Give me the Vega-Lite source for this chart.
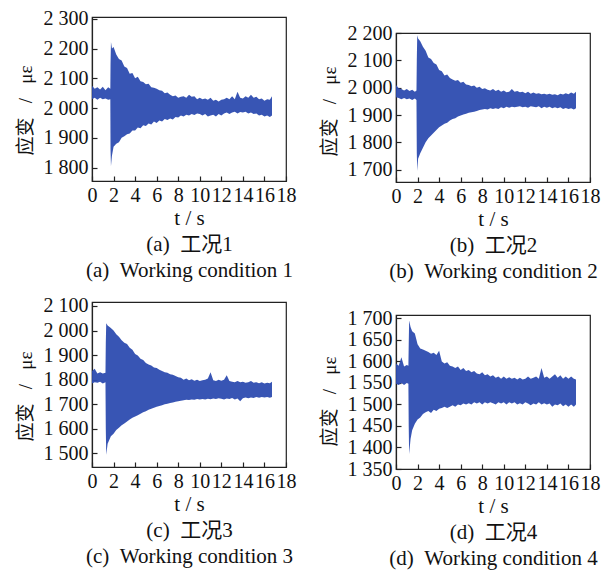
{
"$schema": "https://vega.github.io/schema/vega-lite/v6.json",
"background": "white",
"padding": {"left": 15, "top": 8, "right": 5, "bottom": 2},
"datasets": {
"d": [
{"p":1,"t":0,"lo":2030,"hi":2075},{"p":1,"t":0.25,"lo":2035,"hi":2065},{"p":1,"t":0.5,"lo":2028,"hi":2070},{"p":1,"t":0.75,"lo":2035,"hi":2062},{"p":1,"t":1,"lo":2030,"hi":2072},{"p":1,"t":1.25,"lo":2032,"hi":2060},{"p":1,"t":1.5,"lo":2028,"hi":2070},{"p":1,"t":1.7,"lo":2030,"hi":2065},{"p":1,"t":1.72,"lo":1860,"hi":2150},{"p":1,"t":1.76,"lo":1805,"hi":2222},{"p":1,"t":1.85,"lo":1840,"hi":2200},{"p":1,"t":2,"lo":1870,"hi":2205},{"p":1,"t":2.25,"lo":1880,"hi":2180},{"p":1,"t":2.5,"lo":1885,"hi":2165},{"p":1,"t":2.75,"lo":1900,"hi":2160},{"p":1,"t":3,"lo":1905,"hi":2140},{"p":1,"t":3.25,"lo":1912,"hi":2135},{"p":1,"t":3.5,"lo":1915,"hi":2115},{"p":1,"t":3.75,"lo":1925,"hi":2118},{"p":1,"t":4,"lo":1925,"hi":2100},{"p":1,"t":4.25,"lo":1935,"hi":2105},{"p":1,"t":4.5,"lo":1932,"hi":2090},{"p":1,"t":4.75,"lo":1942,"hi":2088},{"p":1,"t":5,"lo":1940,"hi":2080},{"p":1,"t":5.25,"lo":1948,"hi":2082},{"p":1,"t":5.5,"lo":1945,"hi":2070},{"p":1,"t":5.75,"lo":1955,"hi":2068},{"p":1,"t":6,"lo":1950,"hi":2065},{"p":1,"t":6.25,"lo":1958,"hi":2060},{"p":1,"t":6.5,"lo":1955,"hi":2058},{"p":1,"t":6.75,"lo":1963,"hi":2050},{"p":1,"t":7,"lo":1960,"hi":2052},{"p":1,"t":7.25,"lo":1965,"hi":2045},{"p":1,"t":7.5,"lo":1962,"hi":2040},{"p":1,"t":7.75,"lo":1970,"hi":2042},{"p":1,"t":8,"lo":1968,"hi":2035},{"p":1,"t":8.25,"lo":1975,"hi":2038},{"p":1,"t":8.5,"lo":1972,"hi":2040},{"p":1,"t":8.75,"lo":1978,"hi":2035},{"p":1,"t":9,"lo":1975,"hi":2045},{"p":1,"t":9.25,"lo":1980,"hi":2038},{"p":1,"t":9.5,"lo":1977,"hi":2040},{"p":1,"t":9.75,"lo":1982,"hi":2030},{"p":1,"t":10,"lo":1980,"hi":2035},{"p":1,"t":10.25,"lo":1975,"hi":2030},{"p":1,"t":10.5,"lo":1980,"hi":2032},{"p":1,"t":10.75,"lo":1972,"hi":2028},{"p":1,"t":11,"lo":1975,"hi":2035},{"p":1,"t":11.25,"lo":1978,"hi":2025},{"p":1,"t":11.5,"lo":1972,"hi":2028},{"p":1,"t":11.75,"lo":1980,"hi":2022},{"p":1,"t":12,"lo":1975,"hi":2028},{"p":1,"t":12.25,"lo":1982,"hi":2030},{"p":1,"t":12.5,"lo":1985,"hi":2035},{"p":1,"t":12.75,"lo":1980,"hi":2030},{"p":1,"t":13,"lo":1985,"hi":2040},{"p":1,"t":13.25,"lo":1988,"hi":2030},{"p":1,"t":13.5,"lo":1982,"hi":2055},{"p":1,"t":13.75,"lo":1987,"hi":2035},{"p":1,"t":14,"lo":1985,"hi":2032},{"p":1,"t":14.25,"lo":1988,"hi":2040},{"p":1,"t":14.5,"lo":1982,"hi":2035},{"p":1,"t":14.75,"lo":1985,"hi":2045},{"p":1,"t":15,"lo":1980,"hi":2035},{"p":1,"t":15.25,"lo":1982,"hi":2038},{"p":1,"t":15.5,"lo":1975,"hi":2030},{"p":1,"t":15.75,"lo":1978,"hi":2032},{"p":1,"t":16,"lo":1972,"hi":2025},{"p":1,"t":16.25,"lo":1975,"hi":2030},{"p":1,"t":16.5,"lo":1970,"hi":2028},{"p":1,"t":16.7,"lo":1975,"hi":2040},
{"p":2,"t":0,"lo":1965,"hi":2010},{"p":2,"t":0.25,"lo":1962,"hi":1998},{"p":2,"t":0.5,"lo":1958,"hi":1995},{"p":2,"t":0.75,"lo":1962,"hi":1990},{"p":2,"t":1,"lo":1958,"hi":1995},{"p":2,"t":1.25,"lo":1960,"hi":1988},{"p":2,"t":1.5,"lo":1955,"hi":1992},{"p":2,"t":1.75,"lo":1960,"hi":1985},{"p":2,"t":1.9,"lo":1955,"hi":1990},{"p":2,"t":1.93,"lo":1760,"hi":2100},{"p":2,"t":1.97,"lo":1695,"hi":2192},{"p":2,"t":2.05,"lo":1740,"hi":2180},{"p":2,"t":2.25,"lo":1760,"hi":2170},{"p":2,"t":2.5,"lo":1780,"hi":2150},{"p":2,"t":2.75,"lo":1800,"hi":2135},{"p":2,"t":3,"lo":1815,"hi":2110},{"p":2,"t":3.25,"lo":1825,"hi":2105},{"p":2,"t":3.5,"lo":1835,"hi":2090},{"p":2,"t":3.75,"lo":1845,"hi":2085},{"p":2,"t":4,"lo":1855,"hi":2065},{"p":2,"t":4.25,"lo":1862,"hi":2060},{"p":2,"t":4.5,"lo":1868,"hi":2045},{"p":2,"t":4.75,"lo":1872,"hi":2048},{"p":2,"t":5,"lo":1880,"hi":2035},{"p":2,"t":5.25,"lo":1885,"hi":2030},{"p":2,"t":5.5,"lo":1888,"hi":2025},{"p":2,"t":5.75,"lo":1895,"hi":2028},{"p":2,"t":6,"lo":1898,"hi":2018},{"p":2,"t":6.25,"lo":1902,"hi":2022},{"p":2,"t":6.5,"lo":1905,"hi":2012},{"p":2,"t":6.75,"lo":1908,"hi":2010},{"p":2,"t":7,"lo":1910,"hi":2005},{"p":2,"t":7.25,"lo":1912,"hi":2008},{"p":2,"t":7.5,"lo":1915,"hi":2000},{"p":2,"t":7.75,"lo":1918,"hi":2003},{"p":2,"t":8,"lo":1920,"hi":1995},{"p":2,"t":8.25,"lo":1922,"hi":1998},{"p":2,"t":8.5,"lo":1920,"hi":1992},{"p":2,"t":8.75,"lo":1925,"hi":1990},{"p":2,"t":9,"lo":1922,"hi":1995},{"p":2,"t":9.25,"lo":1925,"hi":1988},{"p":2,"t":9.5,"lo":1922,"hi":1992},{"p":2,"t":9.75,"lo":1928,"hi":1985},{"p":2,"t":10,"lo":1925,"hi":1990},{"p":2,"t":10.25,"lo":1930,"hi":1983},{"p":2,"t":10.5,"lo":1927,"hi":1985},{"p":2,"t":10.75,"lo":1930,"hi":1995},{"p":2,"t":11,"lo":1928,"hi":1985},{"p":2,"t":11.25,"lo":1930,"hi":1988},{"p":2,"t":11.5,"lo":1932,"hi":1983},{"p":2,"t":11.75,"lo":1928,"hi":1985},{"p":2,"t":12,"lo":1930,"hi":1980},{"p":2,"t":12.25,"lo":1927,"hi":1985},{"p":2,"t":12.5,"lo":1932,"hi":1978},{"p":2,"t":12.75,"lo":1930,"hi":1982},{"p":2,"t":13,"lo":1928,"hi":1978},{"p":2,"t":13.25,"lo":1932,"hi":1980},{"p":2,"t":13.5,"lo":1925,"hi":1976},{"p":2,"t":13.75,"lo":1930,"hi":1978},{"p":2,"t":14,"lo":1927,"hi":1975},{"p":2,"t":14.25,"lo":1930,"hi":1978},{"p":2,"t":14.5,"lo":1925,"hi":1974},{"p":2,"t":14.75,"lo":1928,"hi":1976},{"p":2,"t":15,"lo":1925,"hi":1972},{"p":2,"t":15.25,"lo":1928,"hi":1978},{"p":2,"t":15.5,"lo":1922,"hi":1975},{"p":2,"t":15.75,"lo":1926,"hi":1980},{"p":2,"t":16,"lo":1922,"hi":1976},{"p":2,"t":16.25,"lo":1925,"hi":1982},{"p":2,"t":16.5,"lo":1920,"hi":1978},{"p":2,"t":16.7,"lo":1925,"hi":1985},
{"p":3,"t":0,"lo":1785,"hi":1835},{"p":3,"t":0.25,"lo":1790,"hi":1845},{"p":3,"t":0.5,"lo":1788,"hi":1825},{"p":3,"t":0.75,"lo":1792,"hi":1830},{"p":3,"t":1,"lo":1785,"hi":1825},{"p":3,"t":1.25,"lo":1790,"hi":1828},{"p":3,"t":1.28,"lo":1600,"hi":1950},{"p":3,"t":1.32,"lo":1495,"hi":2030},{"p":3,"t":1.45,"lo":1540,"hi":2020},{"p":3,"t":1.75,"lo":1570,"hi":2010},{"p":3,"t":2,"lo":1580,"hi":2000},{"p":3,"t":2.25,"lo":1595,"hi":1985},{"p":3,"t":2.5,"lo":1605,"hi":1975},{"p":3,"t":2.75,"lo":1615,"hi":1960},{"p":3,"t":3,"lo":1622,"hi":1950},{"p":3,"t":3.25,"lo":1630,"hi":1945},{"p":3,"t":3.5,"lo":1638,"hi":1930},{"p":3,"t":3.75,"lo":1645,"hi":1922},{"p":3,"t":4,"lo":1650,"hi":1905},{"p":3,"t":4.25,"lo":1655,"hi":1898},{"p":3,"t":4.5,"lo":1662,"hi":1885},{"p":3,"t":4.75,"lo":1668,"hi":1880},{"p":3,"t":5,"lo":1672,"hi":1868},{"p":3,"t":5.25,"lo":1678,"hi":1862},{"p":3,"t":5.5,"lo":1682,"hi":1858},{"p":3,"t":5.75,"lo":1686,"hi":1850},{"p":3,"t":6,"lo":1690,"hi":1848},{"p":3,"t":6.25,"lo":1693,"hi":1840},{"p":3,"t":6.5,"lo":1696,"hi":1835},{"p":3,"t":6.75,"lo":1700,"hi":1830},{"p":3,"t":7,"lo":1702,"hi":1828},{"p":3,"t":7.25,"lo":1705,"hi":1822},{"p":3,"t":7.5,"lo":1707,"hi":1820},{"p":3,"t":7.75,"lo":1710,"hi":1815},{"p":3,"t":8,"lo":1712,"hi":1810},{"p":3,"t":8.25,"lo":1714,"hi":1808},{"p":3,"t":8.5,"lo":1716,"hi":1800},{"p":3,"t":8.75,"lo":1718,"hi":1805},{"p":3,"t":9,"lo":1717,"hi":1798},{"p":3,"t":9.25,"lo":1720,"hi":1802},{"p":3,"t":9.5,"lo":1718,"hi":1796},{"p":3,"t":9.75,"lo":1722,"hi":1800},{"p":3,"t":10,"lo":1720,"hi":1795},{"p":3,"t":10.25,"lo":1722,"hi":1798},{"p":3,"t":10.5,"lo":1720,"hi":1800},{"p":3,"t":10.75,"lo":1723,"hi":1805},{"p":3,"t":11,"lo":1721,"hi":1830},{"p":3,"t":11.25,"lo":1724,"hi":1798},{"p":3,"t":11.5,"lo":1722,"hi":1795},{"p":3,"t":11.75,"lo":1725,"hi":1800},{"p":3,"t":12,"lo":1723,"hi":1796},{"p":3,"t":12.25,"lo":1720,"hi":1800},{"p":3,"t":12.5,"lo":1724,"hi":1818},{"p":3,"t":12.75,"lo":1722,"hi":1795},{"p":3,"t":13,"lo":1726,"hi":1792},{"p":3,"t":13.25,"lo":1720,"hi":1790},{"p":3,"t":13.5,"lo":1724,"hi":1795},{"p":3,"t":13.75,"lo":1712,"hi":1790},{"p":3,"t":14,"lo":1725,"hi":1792},{"p":3,"t":14.25,"lo":1728,"hi":1788},{"p":3,"t":14.5,"lo":1725,"hi":1790},{"p":3,"t":14.75,"lo":1728,"hi":1795},{"p":3,"t":15,"lo":1726,"hi":1788},{"p":3,"t":15.25,"lo":1730,"hi":1790},{"p":3,"t":15.5,"lo":1727,"hi":1786},{"p":3,"t":15.75,"lo":1730,"hi":1790},{"p":3,"t":16,"lo":1728,"hi":1785},{"p":3,"t":16.25,"lo":1730,"hi":1788},{"p":3,"t":16.5,"lo":1727,"hi":1786},{"p":3,"t":16.7,"lo":1730,"hi":1792},
{"p":4,"t":0,"lo":1548,"hi":1595},{"p":4,"t":0.25,"lo":1545,"hi":1590},{"p":4,"t":0.5,"lo":1550,"hi":1610},{"p":4,"t":0.75,"lo":1545,"hi":1588},{"p":4,"t":1,"lo":1550,"hi":1592},{"p":4,"t":1.15,"lo":1548,"hi":1590},{"p":4,"t":1.18,"lo":1450,"hi":1640},{"p":4,"t":1.22,"lo":1385,"hi":1695},{"p":4,"t":1.35,"lo":1420,"hi":1680},{"p":4,"t":1.5,"lo":1440,"hi":1670},{"p":4,"t":1.75,"lo":1455,"hi":1665},{"p":4,"t":2,"lo":1465,"hi":1640},{"p":4,"t":2.25,"lo":1470,"hi":1630},{"p":4,"t":2.5,"lo":1478,"hi":1628},{"p":4,"t":2.75,"lo":1482,"hi":1625},{"p":4,"t":3,"lo":1485,"hi":1622},{"p":4,"t":3.25,"lo":1480,"hi":1618},{"p":4,"t":3.5,"lo":1488,"hi":1620},{"p":4,"t":3.75,"lo":1485,"hi":1615},{"p":4,"t":4,"lo":1490,"hi":1625},{"p":4,"t":4.25,"lo":1492,"hi":1600},{"p":4,"t":4.5,"lo":1495,"hi":1595},{"p":4,"t":4.75,"lo":1492,"hi":1598},{"p":4,"t":5,"lo":1495,"hi":1590},{"p":4,"t":5.25,"lo":1498,"hi":1588},{"p":4,"t":5.5,"lo":1495,"hi":1585},{"p":4,"t":5.75,"lo":1500,"hi":1588},{"p":4,"t":6,"lo":1498,"hi":1580},{"p":4,"t":6.25,"lo":1502,"hi":1585},{"p":4,"t":6.5,"lo":1500,"hi":1578},{"p":4,"t":6.75,"lo":1503,"hi":1580},{"p":4,"t":7,"lo":1500,"hi":1575},{"p":4,"t":7.25,"lo":1505,"hi":1578},{"p":4,"t":7.5,"lo":1502,"hi":1572},{"p":4,"t":7.75,"lo":1505,"hi":1570},{"p":4,"t":8,"lo":1500,"hi":1575},{"p":4,"t":8.25,"lo":1505,"hi":1568},{"p":4,"t":8.5,"lo":1502,"hi":1570},{"p":4,"t":8.75,"lo":1505,"hi":1565},{"p":4,"t":9,"lo":1503,"hi":1568},{"p":4,"t":9.25,"lo":1500,"hi":1562},{"p":4,"t":9.5,"lo":1505,"hi":1565},{"p":4,"t":9.75,"lo":1502,"hi":1560},{"p":4,"t":10,"lo":1505,"hi":1565},{"p":4,"t":10.25,"lo":1500,"hi":1560},{"p":4,"t":10.5,"lo":1505,"hi":1563},{"p":4,"t":10.75,"lo":1502,"hi":1560},{"p":4,"t":11,"lo":1505,"hi":1562},{"p":4,"t":11.25,"lo":1500,"hi":1558},{"p":4,"t":11.5,"lo":1503,"hi":1562},{"p":4,"t":11.75,"lo":1500,"hi":1558},{"p":4,"t":12,"lo":1505,"hi":1560},{"p":4,"t":12.25,"lo":1502,"hi":1565},{"p":4,"t":12.5,"lo":1498,"hi":1560},{"p":4,"t":12.75,"lo":1502,"hi":1562},{"p":4,"t":13,"lo":1500,"hi":1565},{"p":4,"t":13.25,"lo":1505,"hi":1560},{"p":4,"t":13.5,"lo":1500,"hi":1585},{"p":4,"t":13.75,"lo":1503,"hi":1562},{"p":4,"t":14,"lo":1500,"hi":1565},{"p":4,"t":14.25,"lo":1502,"hi":1560},{"p":4,"t":14.5,"lo":1495,"hi":1565},{"p":4,"t":14.75,"lo":1500,"hi":1570},{"p":4,"t":15,"lo":1498,"hi":1562},{"p":4,"t":15.25,"lo":1502,"hi":1568},{"p":4,"t":15.5,"lo":1496,"hi":1560},{"p":4,"t":15.75,"lo":1500,"hi":1565},{"p":4,"t":16,"lo":1495,"hi":1560},{"p":4,"t":16.25,"lo":1500,"hi":1565},{"p":4,"t":16.5,"lo":1495,"hi":1560},{"p":4,"t":16.7,"lo":1500,"hi":1558}
]
},
"config": {
"font": "Liberation Serif",
"view": {"stroke": "#222", "strokeWidth": 1.2},
"axis": {"domainColor": "#222", "domainWidth": 1.2, "tickColor": "#222", "tickWidth": 1.2, "tickSize": -5, "labelPadding": 9, "labelFont": "Liberation Serif", "labelFontSize": 20, "labelColor": "#111", "titleFont": "Liberation Serif, Noto Sans CJK SC", "titleFontSize": 21, "titleFontWeight": "normal", "titleColor": "#111", "grid": false, "labelOverlap": false, "labelBound": false, "labelFlush": false},
"axisX": {"titleLineHeight": 26, "titlePadding": 2},
"axisY": {"titleFontSize": 19, "titlePadding": 8, "labelExpr": "floor(datum.value/1000) + ' ' + format(datum.value % 1000, '03d')"}
},
"spacing": 22,
"hconcat": [
{"spacing": 14, "vconcat": [
{"width": 194, "height": 164, "data": {"name": "d"}, "transform": [{"filter": "datum.p == 1"}],
 "mark": {"type": "area", "color": "#2d4cb0", "opacity": 0.95},
 "encoding": {
  "x": {"field": "t", "type": "quantitative", "scale": {"domain": [0, 18], "nice": false}, "axis": {"values": [0,2,4,6,8,10,12,14,16,18], "title": ["t / s", "(a)\u2002工况1", "(a)\u2002Working condition 1"]}},
  "y": {"field": "lo", "type": "quantitative", "scale": {"domain": [1755, 2306], "nice": false, "zero": false}, "axis": {"values": [1800,1900,2000,2100,2200,2300], "title": "应变\u2002 / \u2002με", "titleY": 93}},
  "y2": {"field": "hi"}}},
{"width": 194, "height": 165, "data": {"name": "d"}, "transform": [{"filter": "datum.p == 3"}],
 "mark": {"type": "area", "color": "#2d4cb0", "opacity": 0.95},
 "encoding": {
  "x": {"field": "t", "type": "quantitative", "scale": {"domain": [0, 18], "nice": false}, "axis": {"values": [0,2,4,6,8,10,12,14,16,18], "title": ["t / s", "(c)\u2002工况3", "(c)\u2002Working condition 3"]}},
  "y": {"field": "lo", "type": "quantitative", "scale": {"domain": [1445, 2116], "nice": false, "zero": false}, "axis": {"values": [1500,1600,1700,1800,1900,2000,2100], "title": "应变\u2002 / \u2002με", "titleY": 94}},
  "y2": {"field": "hi"}}}
]},
{"spacing": 25, "vconcat": [
{"spacing": 4, "vconcat": [
{"width": 194, "height": 1, "data": {"values": [{"t": 0}]}, "view": {"stroke": null},
 "mark": {"type": "rule", "opacity": 0}, "encoding": {}},
{"width": 194, "height": 149, "data": {"name": "d"}, "transform": [{"filter": "datum.p == 2"}],
 "mark": {"type": "area", "color": "#2d4cb0", "opacity": 0.95},
 "encoding": {
  "x": {"field": "t", "type": "quantitative", "scale": {"domain": [0, 18], "nice": false}, "axis": {"values": [0,2,4,6,8,10,12,14,16,18], "title": ["t / s", "(b)\u2002工况2", "(b)\u2002Working condition 2"]}},
  "y": {"field": "lo", "type": "quantitative", "scale": {"domain": [1655, 2200], "nice": false, "zero": false}, "axis": {"values": [1700,1800,1900,2000,2100,2200], "title": "应变\u2002 / \u2002με", "titleY": 78}},
  "y2": {"field": "hi"}}}
]},
{"width": 194, "height": 154, "data": {"name": "d"}, "transform": [{"filter": "datum.p == 4"}],
 "mark": {"type": "area", "color": "#2d4cb0", "opacity": 0.95},
 "encoding": {
  "x": {"field": "t", "type": "quantitative", "scale": {"domain": [0, 18], "nice": false}, "axis": {"values": [0,2,4,6,8,10,12,14,16,18], "title": ["t / s", "(d)\u2002工况4", "(d)\u2002Working condition 4"]}},
  "y": {"field": "lo", "type": "quantitative", "scale": {"domain": [1350, 1708], "nice": false, "zero": false}, "axis": {"values": [1350,1400,1450,1500,1550,1600,1650,1700], "title": "应变\u2002 / \u2002με", "titleY": 86}},
  "y2": {"field": "hi"}}}
]}
]
}
